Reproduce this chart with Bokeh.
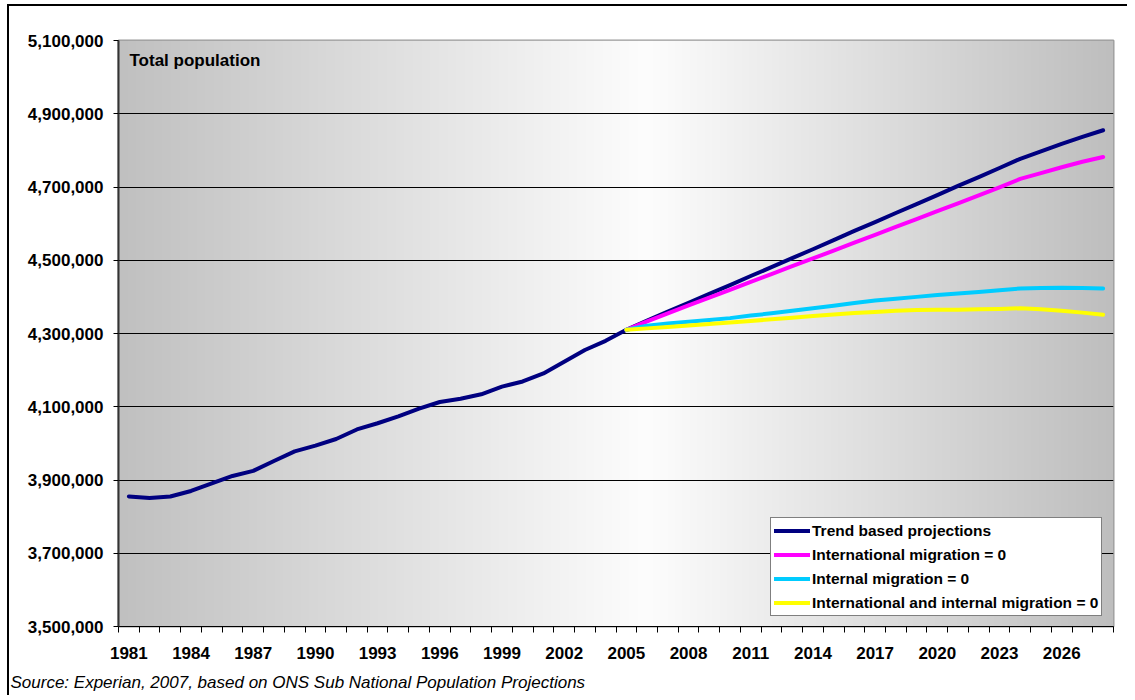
import numpy as np
from bokeh.plotting import figure
from bokeh.models import (FixedTicker, NumeralTickFormatter, Legend, LegendItem,
                          Label, Range1d, ColumnDataSource, Title)
from bokeh.embed import file_html
from bokeh.resources import INLINE

# ---------------- data ----------------
years = list(range(1981, 2029))
trend = [3855000, 3851000, 3855000, 3870000, 3891000, 3911000, 3925000, 3952000,
         3978000, 3994000, 4012000, 4038000, 4055000, 4074000, 4095000, 4113000,
         4122000, 4134000, 4155000, 4169000, 4191000, 4223000, 4255000, 4280000,
         4310000, 4335000, 4360000, 4384000, 4408000, 4432000, 4457000, 4481000,
         4506000, 4530000, 4555000, 4580000, 4604000, 4629000, 4653000, 4678000,
         4703000, 4727000, 4752000, 4777000, 4797000, 4818000, 4837000, 4855000]

proj_years = list(range(2005, 2029))
intl_zero = [4310000, 4333000, 4355000, 4377000, 4398000, 4419000, 4441000, 4462000,
             4484000, 4505000, 4526000, 4548000, 4569000, 4591000, 4612000, 4634000,
             4655000, 4677000, 4699000, 4722000, 4738000, 4754000, 4769000, 4782000]
internal_zero = [4310000, 4321000, 4327000, 4332000, 4337000, 4342000, 4349000, 4355000,
                 4362000, 4369000, 4376000, 4383000, 4390000, 4395000, 4400000, 4405000,
                 4409000, 4413000, 4418000, 4423000, 4424000, 4425000, 4424000, 4423000]
both_zero = [4310000, 4314000, 4318000, 4322000, 4326000, 4330000, 4334000, 4339000,
             4343000, 4348000, 4352000, 4356000, 4359000, 4362000, 4364000, 4365000,
             4365000, 4366000, 4367000, 4369000, 4366000, 4362000, 4357000, 4351000]

series_names = ["Trend based projections", "International migration = 0",
                "Internal migration = 0", "International and internal migration = 0"]
series_colors = ["#000080", "#FF00FF", "#00CCFF", "#FFFF00"]

x_label_years = list(range(1981, 2028, 3))
y_ticks = list(range(3500000, 5100001, 200000))

chart_title = "Total population"
source_note = "Source: Experian, 2007, based on ONS Sub National Population Projections"

FONT = "Liberation Sans"

X_START, X_END = years[0] - 0.5, years[-1] + 0.5
Y_START, Y_END = y_ticks[0], y_ticks[-1]

# ---------------- figure ----------------
p = figure(width=1127, height=695, output_backend="svg", toolbar_location=None,
           x_range=Range1d(X_START, X_END), y_range=Range1d(Y_START, Y_END),
           min_border_left=118, min_border_right=14, min_border_top=40,
           min_border_bottom=69)
# thin black chart-area frame on the left and top edges (painted behind a transparent border fill)
p.styles = {"background": ("linear-gradient(#000,#000) 7px 4px / 2px 100% no-repeat, "
                           "linear-gradient(#000,#000) 7px 4px / 100% 2px no-repeat, #ffffff")}
p.background_fill_color = "#d8d8d8"
p.border_fill_color = "#ffffff"
p.border_fill_alpha = 0
p.outline_line_color = "#999999"
p.outline_line_width = 2

# horizontal gradient background of the plot area
n = 995
f = (np.arange(n) + 0.5) / n
c = np.where(f < 0.53, 192 + 61 * (f / 0.53), 190 + 63 * ((1 - f) / 0.47))
c = np.clip(c, 0, 255).astype(np.uint8)
img = np.zeros((1, n), dtype=np.uint32)
view = img.view(dtype=np.uint8).reshape((1, n, 4))
view[0, :, 0] = c
view[0, :, 1] = c
view[0, :, 2] = c
view[0, :, 3] = 255
p.image_rgba(image=[img], x=X_START, y=Y_START, dw=X_END - X_START,
             dh=Y_END - Y_START, level="image")

# grid
p.xgrid.visible = False
p.ygrid.ticker = FixedTicker(ticks=y_ticks[1:-1])
p.ygrid.grid_line_color = "#000000"
p.ygrid.grid_line_width = 1

# x axis
p.xaxis.ticker = FixedTicker(ticks=x_label_years,
                             minor_ticks=[y - 0.5 for y in years] + [years[-1] + 0.5])
p.xaxis.major_tick_line_color = None
p.xaxis.major_tick_out = 0
p.xaxis.major_tick_in = 0
p.xaxis.minor_tick_line_color = "#000000"
p.xaxis.minor_tick_out = 6
p.xaxis.minor_tick_in = 0
p.xaxis.axis_line_color = "#000000"
p.xaxis.axis_line_width = 1
p.xaxis.major_label_standoff = 14
p.xaxis.major_label_text_font = FONT
p.xaxis.major_label_text_font_style = "bold"
p.xaxis.major_label_text_font_size = "17px"
p.xaxis.major_label_text_color = "#000000"
# invisible spacer label to push the source note a few pixels lower
p.xaxis.axis_label = "\u00a0"
p.xaxis.axis_label_text_font_size = "5px"
p.xaxis.axis_label_standoff = 0

# y axis
p.yaxis.ticker = FixedTicker(ticks=y_ticks)
p.yaxis.formatter = NumeralTickFormatter(format="0,0")
p.yaxis.minor_tick_line_color = None
p.yaxis.major_tick_out = 5
p.yaxis.major_tick_in = 0
p.yaxis.major_tick_line_color = "#000000"
p.yaxis.axis_line_color = "#333333"
p.yaxis.axis_line_width = 2
p.yaxis.major_label_standoff = 10
p.yaxis.major_label_text_font = FONT
p.yaxis.major_label_text_font_style = "bold"
p.yaxis.major_label_text_font_size = "17px"
p.yaxis.major_label_text_color = "#000000"

# lines
all_series = [(years, trend), (proj_years, intl_zero),
              (proj_years, internal_zero), (proj_years, both_zero)]
items = []
for (xs, ys), name, col in zip(all_series, series_names, series_colors):
    src = ColumnDataSource(dict(x=xs, y=ys))
    r = p.line("x", "y", source=src, line_color=col, line_width=4,
               line_join="round", line_cap="round")
    items.append(LegendItem(label=name, renderers=[r]))

legend = Legend(items=items, location=(652, 10))
legend.padding = 3
legend.spacing = 5
legend.label_height = 19
legend.glyph_height = 19
legend.glyph_width = 36
legend.label_standoff = 2
legend.border_line_color = "#000000"
legend.border_line_width = 1
legend.background_fill_color = "#ffffff"
legend.background_fill_alpha = 1
legend.label_text_font = FONT
legend.label_text_font_style = "bold"
legend.label_text_font_size = "15.5px"
legend.label_text_color = "#000000"
p.add_layout(legend, "center")

# title inside the plot area
p.add_layout(Label(x=11, y=566, x_units="screen", y_units="screen", text=chart_title,
                   text_font=FONT, text_font_style="bold", text_font_size="17px",
                   text_color="#000000", text_baseline="alphabetic"))

# source note below the axis
p.add_layout(Title(text=source_note, align="left", offset=-108, standoff=0,
                   text_font=FONT, text_font_style="italic", text_font_size="17px",
                   text_color="#000000"), "below")

open("out.html", "w").write(file_html(p, INLINE))
